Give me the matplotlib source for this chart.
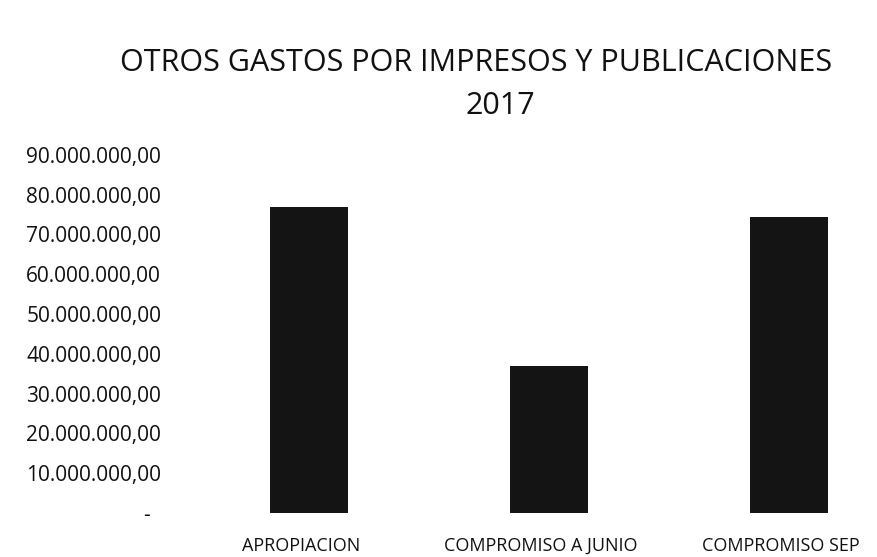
import numpy as np
import matplotlib.pyplot as plt
from matplotlib import font_manager
from matplotlib.ticker import FuncFormatter
from matplotlib.transforms import ScaledTranslation

# datos
categorias = ['APROPIACION', 'COMPROMISO A JUNIO', 'COMPROMISO SEP']
valores = [76900000, 36900000, 74400000]

titulo1 = 'OTROS GASTOS POR IMPRESOS Y PUBLICACIONES'
titulo2 = '2017'

# fuente estrecha parecida a Calibri si existe
nombres = {f.name for f in font_manager.fontManager.ttflist}
if 'Liberation Sans Narrow' in nombres:
    fuente = ['Liberation Sans Narrow', 'DejaVu Sans']
else:
    fuente = ['Open Sans', 'DejaVu Sans']
plt.rcParams['font.family'] = fuente


def formato(v, pos):
    # formato contable: el cero sale como guion
    if v == 0:
        return '-  '
    s = f'{v:,.2f}'
    return s.replace(',', 'X').replace('.', ',').replace('X', '.')


fig = plt.figure(figsize=(8.77, 5.57), dpi=100)
ax = fig.add_axes([0.2155, 0.079, 0.821, 0.643])

x = np.arange(len(categorias))
ax.bar(x, valores, width=0.325, color='#141414')

ax.set_xlim(-0.5, 2.5)
ax.set_ylim(0, 90000000)
ax.set_yticks(np.arange(0, 90000001, 10000000))
ax.yaxis.set_major_formatter(FuncFormatter(formato))
ax.set_xticks(x)
ax.set_xticklabels(categorias)

for s in ax.spines.values():
    s.set_visible(False)
ax.tick_params(axis='y', length=0, pad=20, labelsize=15, labelcolor='#111111')
ax.tick_params(axis='x', length=0, pad=17, labelsize=13, labelcolor='#111111')

# etiquetas de categoria un poco a la izquierda como en el original
desplaza = ScaledTranslation(-8 / 100, 0, fig.dpi_scale_trans)
for lab in ax.get_xticklabels():
    lab.set_transform(lab.get_transform() + desplaza)

fig.text(0.543, 1 - 63 / 557, titulo1, ha='center', va='center', fontsize=22,
         color='#111111')
fig.text(0.571, 1 - 106 / 557, titulo2, ha='center', va='center', fontsize=22,
         color='#111111')

fig.savefig('out.png', dpi=100)
